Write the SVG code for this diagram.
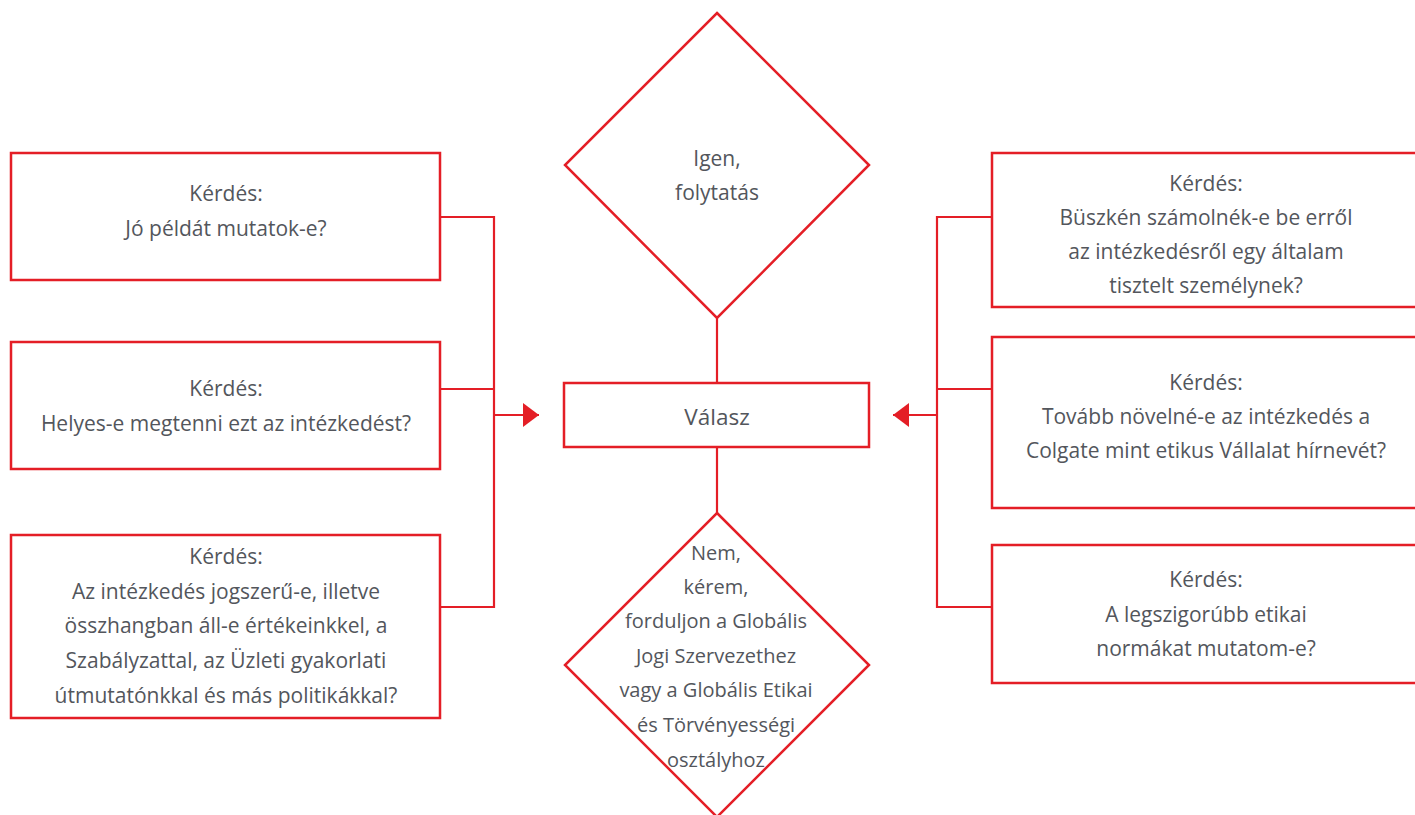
<svg xmlns="http://www.w3.org/2000/svg" width="1415" height="815" viewBox="0 0 1415 815">
<style>
.box{fill:#ffffff;stroke:#e41e26;stroke-width:2.5}
.ln{fill:none;stroke:#e41e26;stroke-width:2.2}
.t{font-family:"Open Sans","Noto Sans","DejaVu Sans",sans-serif;font-size:21px;fill:#53565c;text-anchor:middle}
.s{font-size:20px}
.b{font-size:22.5px}
</style>
<defs>
<marker id="arr" viewBox="0 0 16 24" refX="16" refY="12" markerWidth="16" markerHeight="24" markerUnits="userSpaceOnUse" orient="auto">
<path d="M0,0 L16,12 L0,24 Z" fill="#e41e26"/>
</marker>
</defs>
<rect width="1415" height="815" fill="#ffffff"/>
<g id="connectors">
<path class="ln" d="M440,217 H494 M440,389 H494 M440,607 H494 M494,216 V608"/>
<path class="ln" d="M494,415 H539" marker-end="url(#arr)"/>
<path class="ln" d="M992,217 H937 M992,389 H937 M992,607 H937 M937,216 V608"/>
<path class="ln" d="M937,415 H893" marker-end="url(#arr)"/>
<path class="ln" d="M717,318 V383 M717,447 V513"/>
</g>
<g id="q1">
<rect class="box" x="11" y="153" width="429" height="127"/>
<text class="t" x="226" y="201">Kérdés:</text>
<text class="t" x="226" y="236">Jó példát mutatok-e?</text>
</g>
<g id="q2">
<rect class="box" x="11" y="342" width="429" height="127"/>
<text class="t" x="226" y="396">Kérdés:</text>
<text class="t" x="226" y="431">Helyes-e megtenni ezt az intézkedést?</text>
</g>
<g id="q3">
<rect class="box" x="11" y="535" width="429" height="183"/>
<text class="t" x="226" y="564">Kérdés:</text>
<text class="t" x="226" y="599">Az intézkedés jogszerű-e, illetve</text>
<text class="t" x="226" y="633">összhangban áll-e értékeinkkel, a</text>
<text class="t" x="226" y="668">Szabályzattal, az Üzleti gyakorlati</text>
<text class="t" x="226" y="703">útmutatónkkal és más politikákkal?</text>
</g>
<g id="yes">
<polygon class="box" points="717,13 869,165 717,318 565,165"/>
<text class="t" x="717" y="166">Igen,</text>
<text class="t" x="717" y="200">folytatás</text>
</g>
<g id="answer">
<rect class="box" x="564" y="383" width="305" height="64"/>
<text class="t b" x="717" y="425">Válasz</text>
</g>
<g id="no">
<polygon class="box" points="717,513 869,665 717,817 565,665"/>
<text class="t s" x="716" y="560">Nem,</text>
<text class="t s" x="716" y="594">kérem,</text>
<text class="t s" x="716" y="628">forduljon a Globális</text>
<text class="t s" x="716" y="663">Jogi Szervezethez</text>
<text class="t s" x="716" y="697">vagy a Globális Etikai</text>
<text class="t s" x="716" y="732">és Törvényességi</text>
<text class="t s" x="716" y="767">osztályhoz</text>
</g>
<g id="q4">
<rect class="box" x="992" y="153" width="440" height="154"/>
<text class="t" x="1206" y="191">Kérdés:</text>
<text class="t" x="1206" y="225">Büszkén számolnék-e be erről</text>
<text class="t" x="1206" y="259">az intézkedésről egy általam</text>
<text class="t" x="1206" y="293">tisztelt személynek?</text>
</g>
<g id="q5">
<rect class="box" x="992" y="337" width="440" height="171"/>
<text class="t" x="1206" y="390">Kérdés:</text>
<text class="t" x="1206" y="424">Tovább növelné-e az intézkedés a</text>
<text class="t" x="1206" y="458">Colgate mint etikus Vállalat hírnevét?</text>
</g>
<g id="q6">
<rect class="box" x="992" y="545" width="440" height="138"/>
<text class="t" x="1206" y="587">Kérdés:</text>
<text class="t" x="1206" y="622">A legszigorúbb etikai</text>
<text class="t" x="1206" y="656">normákat mutatom-e?</text>
</g>
</svg>
